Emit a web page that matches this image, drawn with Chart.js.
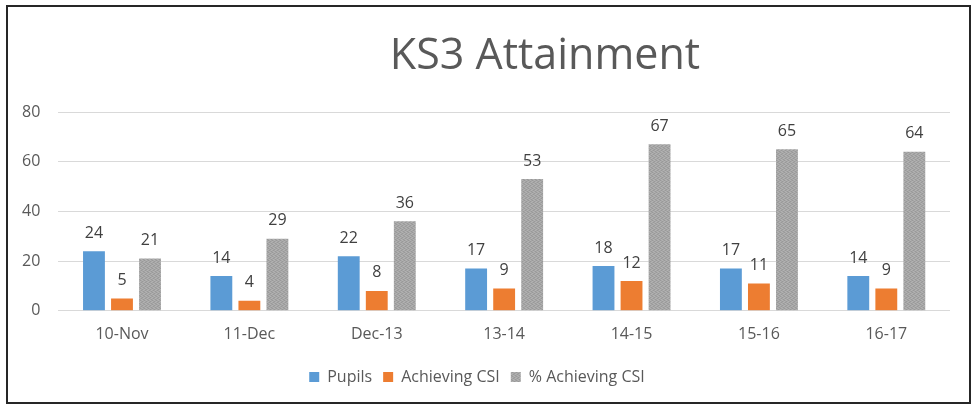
<!DOCTYPE html>
<html>
<head>
<meta charset="utf-8">
<script src="https://cdn.jsdelivr.net/npm/chart.js@4/dist/chart.umd.min.js"></script>
<style>
  html, body { margin: 0; padding: 0; background: #ffffff; }
  #wrap { width: 973px; height: 406px; position: relative; }
</style>
</head>
<body>
<div id="wrap"><canvas id="c" width="973" height="406"></canvas></div>
<script>
const titleText = "KS3 Attainment";
const categories = ["10-Nov", "11-Dec", "Dec-13", "13-14", "14-15", "15-16", "16-17"];
const pupils = [24, 14, 22, 17, 18, 17, 14];
const achievingCSI = [5, 4, 8, 9, 12, 11, 9];
const pctAchievingCSI = [21, 29, 36, 53, 67, 65, 64];
const seriesNames = ["Pupils", "Achieving CSI", "% Achieving CSI"];
const yTicks = [0, 20, 40, 60, 80];

const FONT = "'Open Sans', 'Noto Sans', sans-serif";

function grayPattern() {
  const p = document.createElement('canvas');
  p.width = 4; p.height = 4;
  const g = p.getContext('2d');
  g.fillStyle = '#a6a6a6';
  g.fillRect(0, 0, 4, 4);
  g.fillStyle = '#999999';
  [[0,0],[2,1],[1,2],[3,3]].forEach(([x,y]) => g.fillRect(x, y, 1, 1));
  g.fillStyle = '#b2b2b2';
  [[2,0],[0,1],[3,2],[1,3]].forEach(([x,y]) => g.fillRect(x, y, 1, 1));
  return g.createPattern(p, 'repeat');
}

const ctx = document.getElementById('c').getContext('2d');
const pat = grayPattern();

const framePlugin = {
  id: 'frame',
  afterDraw(chart) {
    const c = chart.ctx;
    c.save();
    c.strokeStyle = '#262626';
    c.lineWidth = 2;
    c.strokeRect(7, 6, 963, 397);
    c.restore();
  }
};

const titlePlugin = {
  id: 'customTitle',
  afterDraw(chart) {
    const c = chart.ctx;
    c.save();
    c.font = "43px " + FONT;
    c.fillStyle = '#595959';
    c.textAlign = 'center';
    c.textBaseline = 'alphabetic';
    c.fillText(titleText, 545, 69);
    c.restore();
  }
};

const labelPlugin = {
  id: 'valueLabels',
  afterDatasetsDraw(chart) {
    const c = chart.ctx;
    c.save();
    c.font = "16px " + FONT;
    c.fillStyle = '#404040';
    c.textAlign = 'center';
    c.textBaseline = 'bottom';
    chart.data.datasets.forEach((ds, i) => {
      const meta = chart.getDatasetMeta(i);
      meta.data.forEach((bar, j) => {
        c.fillText(String(ds.data[j]), bar.x, bar.y - 10);
      });
    });
    c.restore();
  }
};

new Chart(ctx, {
  type: 'bar',
  data: {
    labels: categories,
    datasets: [
      { label: seriesNames[0], data: pupils, backgroundColor: '#5b9bd5', borderWidth: 0 },
      { label: seriesNames[1], data: achievingCSI, backgroundColor: '#ed7d31', borderWidth: 0 },
      { label: seriesNames[2], data: pctAchievingCSI, backgroundColor: pat, borderWidth: 0 }
    ]
  },
  options: {
    responsive: false,
    animation: false,
    devicePixelRatio: 1,
    datasets: { bar: { categoryPercentage: 0.66, barPercentage: 0.78 } },
    layout: { padding: { top: 112, left: 4, right: 23, bottom: 11 } },
    scales: {
      x: {
        grid: { display: false, drawTicks: false },
        border: { display: false },
        ticks: { color: '#595959', font: { family: FONT, size: 16 }, padding: 14 }
      },
      y: {
        min: 0, max: 80,
        afterBuildTicks(axis) { axis.ticks = yTicks.map(v => ({ value: v })); },
        grid: { color: '#d9d9d9', lineWidth: 1, drawTicks: false },
        border: { display: false },
        ticks: { color: '#595959', font: { family: FONT, size: 16 }, padding: 18 }
      }
    },
    plugins: {
      title: { display: false },
      tooltip: { enabled: false },
      legend: {
        position: 'bottom',
        labels: {
          color: '#595959',
          font: { family: FONT, size: 16 },
          boxWidth: 10, boxHeight: 10,
          padding: 11
        }
      }
    }
  },
  plugins: [titlePlugin, labelPlugin, framePlugin]
});
</script>
</body>
</html>
